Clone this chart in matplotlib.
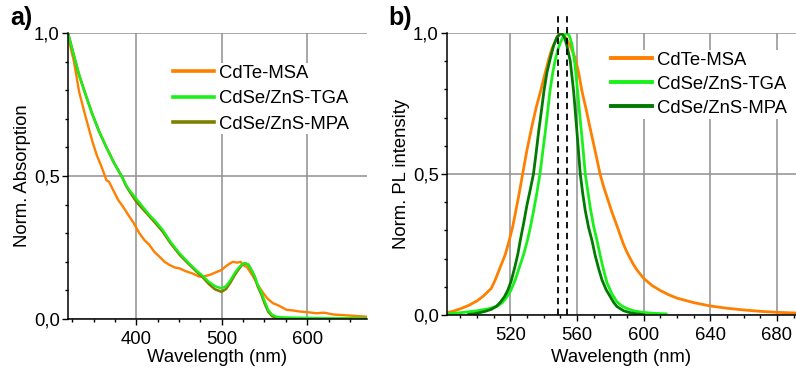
import matplotlib
matplotlib.use("Agg")
import matplotlib.pyplot as plt
from matplotlib.ticker import MultipleLocator, FuncFormatter

plt.rcParams['font.family'] = ['Liberation Sans', 'DejaVu Sans']

# ---- Absorption spectra (panel a) ----
abs_msa_wl = [320, 323, 327, 333, 339, 344, 348.6, 354, 358.5, 362, 365, 368, 373, 379, 385,
              391.8, 397, 403.5, 409.4, 415, 421, 427, 433, 438.8, 445, 450.6, 457, 465, 474,
              480, 485.9, 492, 499.6, 505, 510, 513, 518, 522, 525, 530, 536.8, 542, 548.6,
              554, 560, 566, 571, 576, 583, 591.8, 600, 611, 620, 630, 638.8, 650, 660, 670]
abs_msa = [1.0, 0.95, 0.90, 0.795, 0.725, 0.67, 0.62, 0.57, 0.538, 0.51, 0.485, 0.48, 0.45,
           0.415, 0.39, 0.358, 0.335, 0.30, 0.276, 0.26, 0.235, 0.218, 0.20, 0.189, 0.18,
           0.177, 0.168, 0.16, 0.148, 0.15, 0.154, 0.162, 0.171, 0.185, 0.195, 0.2, 0.197,
           0.2, 0.189, 0.18, 0.148, 0.12, 0.09, 0.07, 0.055, 0.048, 0.04, 0.032, 0.03, 0.026,
           0.024, 0.02, 0.022, 0.016, 0.014, 0.012, 0.01, 0.008]

abs_cdse_wl = [320, 327, 333, 340, 348, 356.5, 365, 374, 382.7, 388, 391.8, 400, 407.4, 415,
               423, 431, 440, 450.6, 460, 470, 478, 485, 492, 499.6, 505, 510, 515, 520, 524,
               527, 531, 535, 538.8, 542, 546.7, 550.5, 554.5, 559, 564, 570, 580, 600, 620,
               640, 670]
abs_tga = [1.0, 0.92, 0.853, 0.79, 0.72, 0.655, 0.6, 0.545, 0.5, 0.468, 0.451, 0.42, 0.393,
           0.365, 0.34, 0.311, 0.27, 0.23, 0.2, 0.171, 0.15, 0.13, 0.115, 0.107, 0.115, 0.135,
           0.16, 0.18, 0.192, 0.195, 0.19, 0.17, 0.148, 0.12, 0.09, 0.06, 0.031, 0.015, 0.008,
           0.006, 0.005, 0.004, 0.003, 0.003, 0.002]
abs_mpa = [1.0, 0.92, 0.853, 0.79, 0.72, 0.655, 0.6, 0.545, 0.5, 0.466, 0.447, 0.41, 0.385,
           0.36, 0.333, 0.305, 0.265, 0.225, 0.196, 0.167, 0.145, 0.122, 0.104, 0.095, 0.105,
           0.127, 0.153, 0.175, 0.19, 0.195, 0.19, 0.17, 0.145, 0.115, 0.083, 0.052, 0.025,
           0.01, 0.004, 0.002, 0.001, 0.001, 0.001, 0.001, 0.001]

# ---- Photoluminescence spectra (panel b) ----
pl_msa_wl = [482, 486, 490, 495, 500, 504, 508.5, 511, 514, 517, 519.4, 521.5, 523, 525.3,
             527.4, 530, 533, 535.5, 538.2, 541, 543.2, 545, 547, 548.5, 550, 551.5, 553, 556,
             559, 561, 563, 565.5, 568, 571, 573.9, 576, 578.5, 581, 583.8, 586, 588, 590, 592,
             594, 596, 598, 600, 605, 610, 615, 620, 630, 640, 650, 660, 670, 680, 691.5]
pl_msa = [0.008, 0.014, 0.022, 0.034, 0.05, 0.068, 0.094, 0.125, 0.17, 0.215, 0.265, 0.315,
          0.36, 0.43, 0.50, 0.585, 0.67, 0.735, 0.794, 0.86, 0.91, 0.945, 0.97, 0.99, 1.0,
          0.997, 0.985, 0.955, 0.91, 0.86, 0.794, 0.73, 0.66, 0.58, 0.50, 0.455, 0.41, 0.365,
          0.32, 0.283, 0.25, 0.223, 0.2, 0.178, 0.16, 0.145, 0.13, 0.105, 0.087, 0.072, 0.06,
          0.044, 0.032, 0.024, 0.018, 0.013, 0.0095, 0.007]

pl_tga_wl = [482, 490, 500, 507, 512.5, 515, 517.5, 520.4, 523, 525.5, 528, 530.3, 532, 534,
             536, 537.8, 539.5, 541, 542.5, 543.8, 545.5, 547, 548.5, 550, 552, 553.7, 555.5,
             557, 558.8, 560.4, 562, 563.5, 565, 566.5, 568, 570, 572, 574, 576, 578, 581, 584,
             587, 590, 594, 600, 606, 613.5]
pl_tga = [0.004, 0.008, 0.015, 0.022, 0.032, 0.043, 0.06, 0.088, 0.125, 0.17, 0.215, 0.265,
          0.31, 0.37, 0.435, 0.50, 0.58, 0.65, 0.725, 0.794, 0.86, 0.905, 0.94, 0.965, 0.99,
          1.0, 0.99, 0.96, 0.89, 0.794, 0.69, 0.6, 0.50, 0.44, 0.38, 0.315, 0.265, 0.21, 0.16,
          0.115, 0.075, 0.047, 0.032, 0.023, 0.015, 0.009, 0.006, 0.004]

pl_mpa_wl = [495, 500, 505, 508.5, 511.5, 514, 516.5, 518.5, 520.5, 522.5, 524.5, 526, 528,
             530, 532, 533.9, 535.5, 537, 538.7, 540.2, 542, 544, 546, 548, 550.7, 552.5, 554,
             556, 558, 560, 562, 563.5, 565, 567, 569, 571, 573, 575, 577.5, 580, 582, 584, 588,
             592, 596, 600]
pl_mpa = [0.002, 0.006, 0.013, 0.02, 0.03, 0.045, 0.065, 0.088, 0.12, 0.165, 0.215, 0.265,
          0.325, 0.39, 0.445, 0.50, 0.575, 0.65, 0.725, 0.794, 0.86, 0.91, 0.955, 0.985, 1.0,
          0.985, 0.955, 0.9, 0.794, 0.65, 0.50, 0.43, 0.37, 0.31, 0.265, 0.21, 0.165, 0.125,
          0.09, 0.065, 0.045, 0.03, 0.015, 0.008, 0.004, 0.001]

peak_marks = [548.6, 554.0]

labels = ["CdTe-MSA", "CdSe/ZnS-TGA", "CdSe/ZnS-MPA"]
c_orange = "#FF7F00"
c_lime = "#1AF01A"
c_olive = "#808000"
c_dkgreen = "#007A00"

FS = 13.3
grid_col = "#8f8f8f"

fig = plt.figure(figsize=(7.96, 3.68), dpi=100)
W, H = 796, 368
ax_a = fig.add_axes([68 / W, (H - 319) / H, 299 / W, 286 / H])
ax_b = fig.add_axes([447 / W, (H - 315) / H, 349 / W, 282 / H])

comma = FuncFormatter(lambda v, p: f"{v:.1f}".replace(".", ","))


def style(ax, xmaj, xmin, xpad):
    for s in ("top", "right"):
        ax.spines[s].set_visible(False)
    for s in ("left", "bottom"):
        ax.spines[s].set_linewidth(1.1)
        ax.spines[s].set_zorder(5)
    ax.xaxis.set_major_locator(MultipleLocator(xmaj))
    ax.xaxis.set_minor_locator(MultipleLocator(xmin))
    ax.yaxis.set_major_locator(MultipleLocator(0.5))
    ax.yaxis.set_minor_locator(MultipleLocator(0.1))
    ax.yaxis.set_major_formatter(comma)
    ax.tick_params(which="major", direction="out", length=4, width=1, labelsize=FS, pad=2)
    ax.tick_params(which="minor", direction="out", length=2.5, width=1)
    ax.tick_params(axis="x", which="major", pad=5)
    ax.grid(True, which="major", color=grid_col, linewidth=1.1)
    ax.set_axisbelow(True)
    ax.set_ylim(0, 1.0)
    ax.set_xlabel("Wavelength (nm)", fontsize=FS, labelpad=xpad)


def white_legend(ax, handles, anchor, spacing, lw):
    leg = ax.legend(handles, labels, loc="upper left", bbox_to_anchor=anchor,
                    fontsize=FS, frameon=True, handlelength=2.2, handletextpad=0.3,
                    labelspacing=spacing, borderpad=0.1, borderaxespad=0)
    frame = leg.get_frame()
    frame.set_edgecolor("none")
    frame.set_facecolor("white")
    frame.set_alpha(1)
    for h in leg.legend_handles:
        h.set_linewidth(lw)
    return leg


# Panel a: absorption
l1, = ax_a.plot(abs_msa_wl, abs_msa, color=c_orange, lw=1.7, zorder=3)
l3, = ax_a.plot(abs_cdse_wl, abs_mpa, color=c_olive, lw=1.9, zorder=3)
l2, = ax_a.plot(abs_cdse_wl, abs_tga, color=c_lime, lw=1.7, zorder=4)
ax_a.set_xlim(320, 670)
style(ax_a, 100, 25, 0)
ax_a.yaxis.get_gridlines()[-1].set_visible(False)
ax_a.set_ylabel("Norm. Absorption", fontsize=FS, labelpad=2)
white_legend(ax_a, [l1, l2, l3], (0.345, 0.895), 0.45, 2.6)

# Panel b: photoluminescence
m1, = ax_b.plot(pl_msa_wl, pl_msa, color=c_orange, lw=2.0, zorder=3)
m2, = ax_b.plot(pl_tga_wl, pl_tga, color=c_lime, lw=2.0, zorder=3)
m3, = ax_b.plot(pl_mpa_wl, pl_mpa, color=c_dkgreen, lw=2.0, zorder=3)
for wl in peak_marks:
    ax_b.plot([wl, wl], [0, 1.07], color="black", lw=1.3, ls=(0, (3.5, 2.5)),
              clip_on=False, zorder=4)
ax_b.set_xlim(482, 691.5)
style(ax_b, 40, 10, 3)
ax_b.set_ylabel("Norm. PL intensity", fontsize=FS, labelpad=2)
white_legend(ax_b, [m1, m2, m3], (0.465, 0.94), 0.38, 2.8)

fig.text(10 / W, 1 - 18 / H, "a)", fontsize=18, fontweight="bold", va="center", ha="left")
fig.text(388 / W, 1 - 18 / H, "b)", fontsize=18, fontweight="bold", va="center", ha="left")

fig.savefig("out.png", dpi=100)
